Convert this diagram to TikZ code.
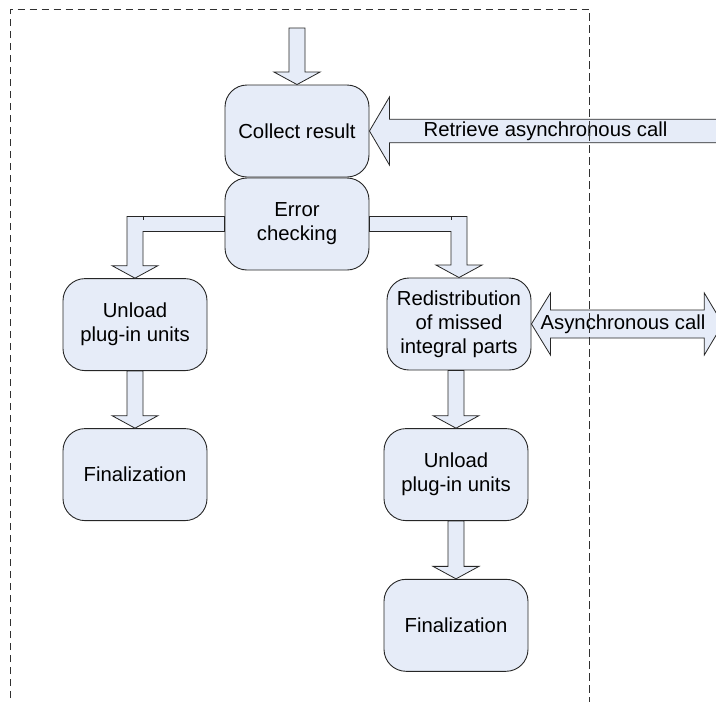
\documentclass[tikz,border=0pt]{standalone}
\usepackage{fontspec}
\setmainfont{Liberation Sans}
\usetikzlibrary{calc}

\definecolor{boxfill}{HTML}{E6ECF8}
\definecolor{edge}{HTML}{262626}
\definecolor{frame}{HTML}{303030}

\tikzset{
  stage/.style={draw=edge, fill=boxfill, line width=0.9pt, rounded corners=22pt,
    minimum width=144pt, minimum height=92pt, inner sep=0pt, align=center,
    font=\fontsize{20.3}{24}\selectfont},
  blockarrow/.style={draw=edge, fill=boxfill, line width=0.8pt, line join=miter},
  arrowtext/.style={inner sep=0pt, font=\fontsize{20.3}{24}\selectfont},
  boundary/.style={draw=frame, line width=1pt, dash pattern=on 7.5pt off 4.5pt}
}

% straight block arrow running down from #1 to the tip #2
\newcommand{\vblock}[2]{%
  \path[blockarrow] ($(#2 |- #1)+(-8,0)$) -- ($(#2)+(-8,-12.5)$) -- ($(#2)+(-23,-12.5)$)
    -- (#2) -- ($(#2)+(23,-12.5)$) -- ($(#2)+(8,-12.5)$) -- ($(#2 |- #1)+(8,0)$) -- cycle;}

% elbow block arrow: horizontal from side anchor #1, then down to tip #2;
% #3 = -1 when turning left, 1 when turning right
\newcommand{\elbow}[3]{%
  \path[blockarrow] ($(#1)+(0,-7.5)$) -- ($(#2 |- #1)+({(#3)*8},-7.5)$)
    -- ($(#2)+({(#3)*8},-12.5)$) -- ($(#2)+({(#3)*23},-12.5)$) -- (#2)
    -- ($(#2)+({-(#3)*23},-12.5)$) -- ($(#2)+({-(#3)*8},-12.5)$)
    -- ($(#2 |- #1)+({-(#3)*8},7.5)$) -- ($(#1)+(0,7.5)$) -- cycle;
  \draw[draw=edge, line width=0.8pt] ($(#2 |- #1)+({-(#3)*8},-7.5)$) -- ++(0,3);}

\begin{document}
\begin{tikzpicture}[x=1pt,y=-1pt]
  \useasboundingbox (0,0) rectangle (716,702);
  \clip (0,0) rectangle (716,702);

  % process stages
  \node[stage] (collect) at (297,131) {Collect result};
  \node[stage] (error)   at (297,224) {Error\\checking};
  \node[stage] (unloadL) at (135,324.6) {Unload\\plug-in units};
  \node[stage] (finL)    at (135,474.6) {Finalization};
  \node[stage] (redist)  at (459,324) {Redistribution\\of missed\\integral parts};
  \node[stage] (unloadR) at (456,474.6) {Unload\\plug-in units};
  \node[stage] (finR)    at (456,625.3) {Finalization};

  \coordinate (entry) at (297,28);
  \coordinate (retrend) at (730,0);
  \coordinate (asyncend) at (722.8,0);

  % flow arrows
  \vblock{entry}{collect.north}
  \elbow{error.west}{unloadL.north}{-1}
  \elbow{error.east}{redist.north}{1}
  \vblock{unloadL.south}{finL.north}
  \vblock{redist.south}{unloadR.north}
  \vblock{unloadR.south}{finR.north}

  % incoming result arrow
  \path[blockarrow] (collect.east) -- ($(collect.east)+(20,-34)$) -- ($(collect.east)+(20,-11.8)$)
    -- ($(retrend |- collect.east)+(0,-11.8)$) -- ($(retrend |- collect.east)+(0,11.8)$)
    -- ($(collect.east)+(20,11.8)$) -- ($(collect.east)+(20,34)$) -- cycle;
  \node[arrowtext] (retrlabel) at (545.5,131) {Retrieve asynchronous call};

  % two-way asynchronous call arrow
  \coordinate (asyncR) at (asyncend |- redist.east);
  \path[blockarrow] (redist.east) -- ($(redist.east)+(19,-31)$) -- ($(redist.east)+(19,-14)$)
    -- ($(asyncR)+(-18.5,-14)$) -- ($(asyncR)+(-18.5,-31)$) -- (asyncR)
    -- ($(asyncR)+(-18.5,31)$) -- ($(asyncR)+(-18.5,14)$)
    -- ($(redist.east)+(19,14)$) -- ($(redist.east)+(19,31)$) -- cycle;
  \node[arrowtext] (asynclabel) at (623,324.5) {Asynchronous call};

  % dashed boundary, open at the bottom
  \draw[boundary] (10.5,710) -- (10.5,9) -- (589.3,9) -- (589.3,710);
\end{tikzpicture}
\end{document}
